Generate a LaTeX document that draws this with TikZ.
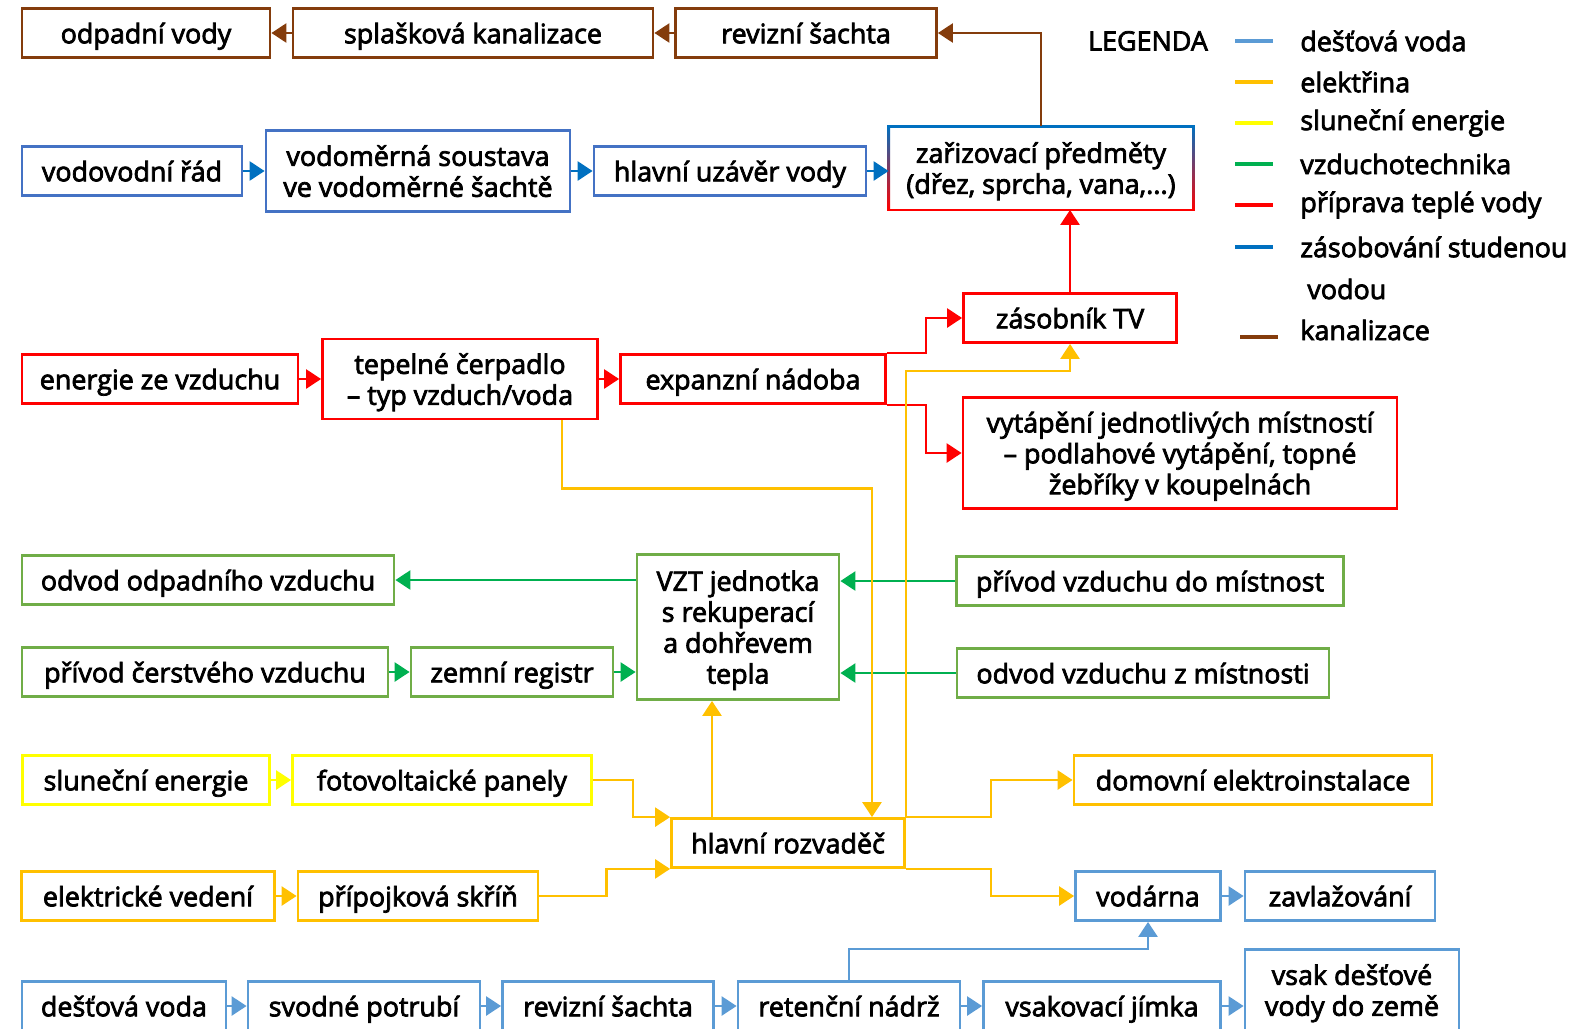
\documentclass[tikz,border=0pt]{standalone}
\usepackage{fontspec}
\setmainfont{Open Sans}[UprightFeatures={FakeBold=2.8}]
\usetikzlibrary{positioning,arrows.meta}
\definecolor{kanal}{HTML}{843C0C}
\definecolor{zasob}{HTML}{0070C0}
\definecolor{zasobbox}{HTML}{4472C4}
\definecolor{tepla}{HTML}{FF0000}
\definecolor{vztl}{HTML}{00B050}
\definecolor{vztbox}{HTML}{70AD47}
\definecolor{slunc}{HTML}{FFFF00}
\definecolor{elek}{HTML}{FFC000}
\definecolor{destc}{HTML}{5B9BD5}
\tikzset{
  box/.style={draw, line width=1.6pt, fill=white, align=center, inner sep=1pt, text depth=-1pt,
              minimum height=0.98cm, font=\fontsize{15.3}{17.6}\selectfont},
  wd/.style={minimum width=#1*0.02cm},
  ht/.style={minimum height=#1*0.02cm},
  kanalbox/.style={box, draw=kanal},
  zasbox/.style={box, draw=zasobbox},
  teplbox/.style={box, draw=tepla},
  vzbox/.style={box, draw=vztbox},
  slbox/.style={box, draw=slunc},
  elbox/.style={box, draw=elek},
  destbox/.style={box, draw=destc},
  link/.style={line width=1.45pt, -{Triangle[length=0.3cm,width=0.38cm]}},
  legtext/.style={anchor=west, inner sep=0pt, font=\fontsize{15.3}{17.6}\selectfont},
  legline/.style={line width=1.8pt},
}
\begin{document}
\begin{tikzpicture}[x=0.02cm, y=-0.02cm]
  \useasboundingbox (0,0) rectangle (1571,1028);

  % kanalizace
  \node[kanalbox, wd=248] (odpad) at (146,33) {odpadní vody};
  \node[kanalbox, wd=360] (splas) at (473,33) {splašková kanalizace};
  \node[kanalbox, wd=261] (revK) at (806,33) {revizní šachta};

  % studena voda
  \node[zasbox, wd=220] (vodovod) at (132,171) {vodovodní řád};
  \node[zasbox, wd=304, ht=81] (vodomer) at (418,171) {vodoměrná soustava\\ve vodoměrné šachtě};
  \node[zasbox, wd=272] (uzaver) at (730,171) {hlavní uzávěr vody};
  \node[box, draw=none, wd=302, ht=81] (zariz) at (1041,168) {zařizovací předměty\\(dřez, sprcha, vana,...)};

  % tepla voda
  \node[teplbox, wd=276] (energie) at (160,379) {energie ze vzduchu};
  \node[teplbox, wd=275, ht=80] (tepcerp) at (460,379) {tepelné čerpadlo\\– typ vzduch/voda};
  \node[teplbox, wd=265] (expanz) at (753,379) {expanzní nádoba};
  \node[teplbox, wd=213] (zasobnik) at (1070,318) {zásobník TV};
  \node[teplbox, wd=434, ht=111] (vytap) at (1180,453) {vytápění jednotlivých místností\\– podlahové vytápění, topné\\žebříky v koupelnách};

  % vzduchotechnika
  \node[vzbox, wd=372] (odvodO) at (208,580) {odvod odpadního vzduchu};
  \node[vzbox, wd=366] (privodC) at (205,672) {přívod čerstvého vzduchu};
  \node[vzbox, wd=202] (zemni) at (512,672) {zemní registr};
  \node[vzbox, wd=202, ht=145] (vzt) at (738,627) {VZT jednotka\\s rekuperací\\a dohřevem\\tepla};
  \node[vzbox, wd=387] (privodM) at (1150,581) {přívod vzduchu do místnost};
  \node[vzbox, wd=372] (odvodM) at (1143,673) {odvod vzduchu z místnosti};

  % elektrina
  \node[slbox, wd=247] (slunce) at (146,780) {sluneční energie};
  \node[slbox, wd=299] (foto) at (442,780) {fotovoltaické panely};
  \node[elbox, wd=253] (vedeni) at (148,896) {elektrické vedení};
  \node[elbox, wd=240] (skrin) at (418,896) {přípojková skříň};
  \node[elbox, wd=233] (rozvad) at (788,843) {hlavní rozvaděč};
  \node[elbox, wd=358] (domov) at (1253,780) {domovní elektroinstalace};

  % destova voda
  \node[destbox, wd=145] (vodarna) at (1148,896) {vodárna};
  \node[destbox, wd=190] (zavlaz) at (1340,896) {zavlažování};
  \node[destbox, wd=204] (destv) at (124,1006) {dešťová voda};
  \node[destbox, wd=232] (svod) at (364,1006) {svodné potrubí};
  \node[destbox, wd=211] (revD) at (608,1006) {revizní šachta};
  \node[destbox, wd=222] (reten) at (849,1006) {retenční nádrž};
  \node[destbox, wd=237] (jimka) at (1102,1006) {vsakovací jímka};
  \node[destbox, wd=214, ht=81] (vsak) at (1352,990) {vsak dešťové\\vody do země};

  % ramecek zarizovacich predmetu
  \shade[top color=zasob, bottom color=tepla] ([xshift=-0.8pt]zariz.north west) rectangle ([xshift=0.8pt]zariz.south west);
  \shade[top color=zasob, bottom color=tepla] ([xshift=-0.8pt]zariz.north east) rectangle ([xshift=0.8pt]zariz.south east);
  \draw[line width=1.6pt, zasob, line cap=rect] (zariz.north west) -- (zariz.north east);
  \draw[line width=1.6pt, tepla, line cap=rect] (zariz.south west) -- (zariz.south east);

  % spoje
  \draw[link, kanal] (revK.west) -- (splas.east);
  \draw[link, kanal] (splas.west) -- (odpad.east);
  \draw[link, kanal] (zariz.north) |- (revK.east);

  \draw[link, zasob] (vodovod.east) -- (vodomer.west);
  \draw[link, zasob] (vodomer.east) -- (uzaver.west);
  \draw[link, zasob] (uzaver.east) -- (zariz.west |- uzaver.east);

  \draw[link, tepla] (energie.east) -- (tepcerp.west);
  \draw[link, tepla] (tepcerp.east) -- (expanz.west);
  \draw[link, tepla] (expanz.north east) -- ++(39,0) |- (zasobnik.west);
  \draw[link, tepla] (expanz.south east) -- ++(39,0) |- (vytap.west);
  \draw[link, tepla] (zasobnik.north) -- (zasobnik.north |- zariz.south);

  \draw[link, vztl] (vzt.west |- odvodO.east) -- (odvodO.east);
  \draw[link, vztl] (privodC.east) -- (zemni.west);
  \draw[link, vztl] (zemni.east) -- (vzt.west |- zemni.east);
  \draw[link, vztl] (privodM.west) -- (vzt.east |- privodM.west);
  \draw[link, vztl] (odvodM.west) -- (vzt.east |- odvodM.west);

  \coordinate (vztin) at ([xshift=-0.52cm]vzt.south);
  \draw[link, slunc] (slunce.east) -- (foto.west);
  \draw[link, elek] (foto.east) -- ++(40,0) |- (rozvad.north west);
  \draw[link, elek] (vedeni.east) -- (skrin.west);
  \draw[link, elek] (skrin.east) -- ++(67,0) |- (rozvad.south west);
  \draw[link, elek] (vztin |- rozvad.north) -- (vztin);
  \draw[link, elek] ([xshift=2.04cm]tepcerp.south) -- ++(0,68) -| ([xshift=1.68cm]rozvad.north);
  \draw[link, elek] (rozvad.north east) -- ++(0,-446) -| (zasobnik.south);
  \draw[link, elek] (rozvad.north east) -- ++(85,0) |- (domov.west);
  \draw[link, elek] (rozvad.south east) -- ++(85,0) |- (vodarna.west);

  \draw[link, destc] (destv.east) -- (svod.west);
  \draw[link, destc] (svod.east) -- (revD.west);
  \draw[link, destc] (revD.east) -- (reten.west);
  \draw[link, destc] (reten.east) -- (jimka.west);
  \draw[link, destc] (jimka.east) -- (jimka.east -| vsak.west);
  \draw[link, destc] (reten.north) -- ++(0,-31) -| (vodarna.south);
  \draw[link, destc] (vodarna.east) -- (zavlaz.west);

  % legenda
  \node[font=\fontsize{15.3}{17.6}\selectfont] (legenda) at (1148,41) {LEGENDA};
  \node[legtext] (l1) at (1300,41) {dešťová voda};
  \node[legtext] (l2) at (1300,82) {elektřina};
  \node[legtext] (l3) at (1300,123) {sluneční energie};
  \node[legtext] (l4) at (1300,164) {vzduchotechnika};
  \node[legtext] (l5) at (1300,205) {příprava teplé vody};
  \node[legtext] (l6) at (1300,247) {zásobování studenou};
  \node[legtext] (l7) at (1307,289) {vodou};
  \node[legtext] (l8) at (1300,330) {kanalizace};
  \draw[legline, destc] ([xshift=-1.3cm]l1.west) -- ++(38,0);
  \draw[legline, elek] ([xshift=-1.3cm]l2.west) -- ++(38,0);
  \draw[legline, slunc] ([xshift=-1.3cm]l3.west) -- ++(38,0);
  \draw[legline, vztl] ([xshift=-1.3cm]l4.west) -- ++(38,0);
  \draw[legline, tepla] ([xshift=-1.3cm]l5.west) -- ++(38,0);
  \draw[legline, zasob] ([xshift=-1.3cm]l6.west) -- ++(38,0);
  \draw[legline, kanal] ([shift={(-60,7)}]l8.west) -- ++(38,0);
\end{tikzpicture}
\end{document}
